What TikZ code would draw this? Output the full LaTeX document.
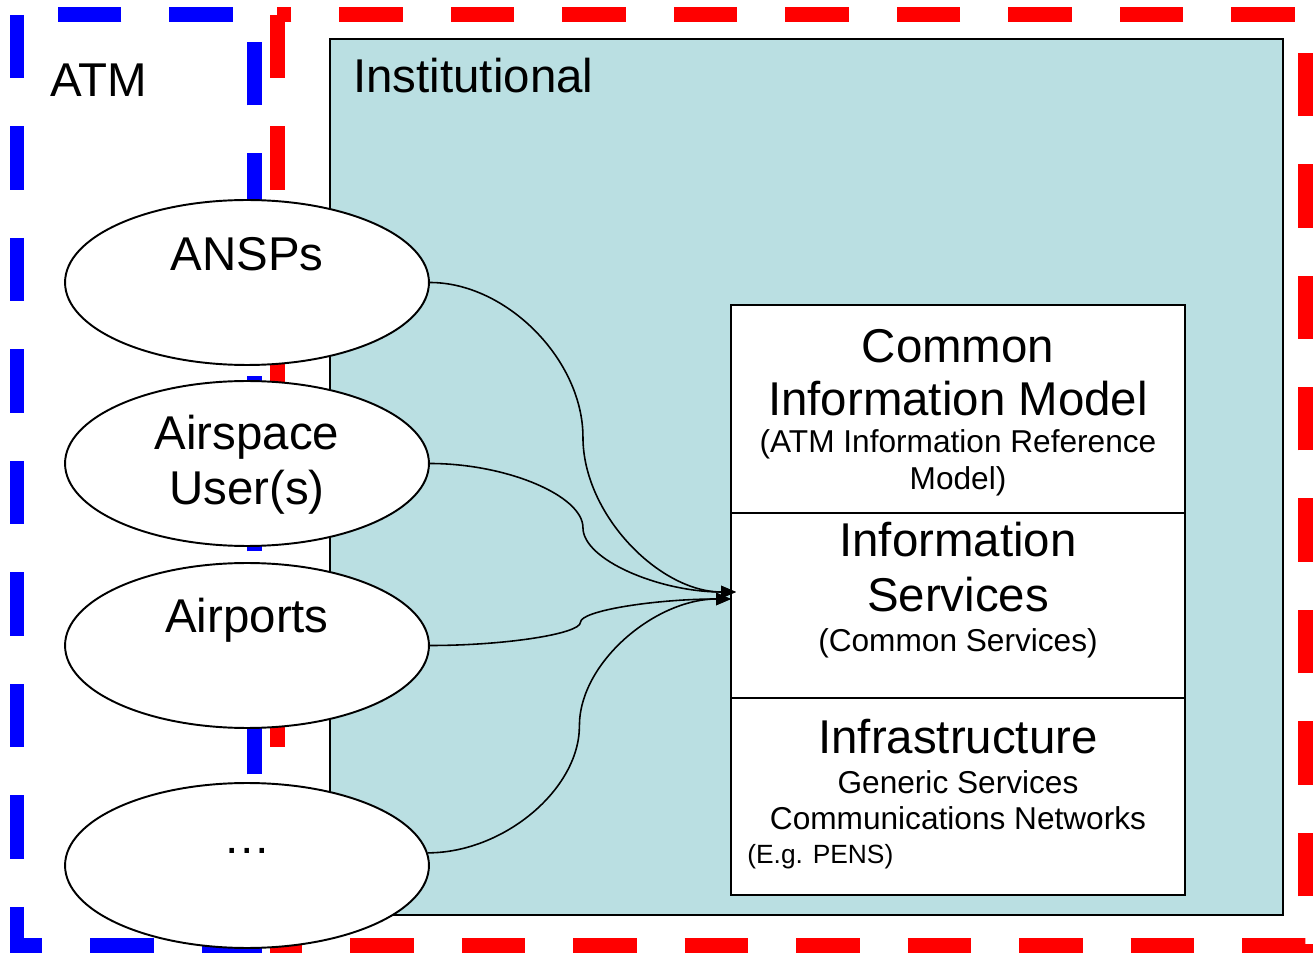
\documentclass[tikz,border=0pt]{standalone}
\usepackage{fontspec}
\setmainfont{Liberation Sans}
\usetikzlibrary{arrows.meta,shapes.geometric,calc}
\definecolor{instfill}{RGB}{186,223,226}
\newcommand{\bigtxt}{\fontsize{27}{31}\selectfont}
\newcommand{\midtxt}{\fontsize{18}{21}\selectfont}
\newcommand{\smalltxt}{\fontsize{15}{18}\selectfont}
\begin{document}
\begin{tikzpicture}[x=0.02cm, y=-0.02cm, line join=miter, >={Triangle[length=8.5pt,width=7pt]},
    frame/.style={line width=0.3cm, dash pattern=on 1.27cm off 0.96cm},
    actor/.style={ellipse, draw, line width=1.1pt, fill=white, minimum width=7.28cm, minimum height=3.3cm, inner sep=0pt},
    layer/.style={rectangle, draw, line width=1.2pt, fill=white, minimum width=9.08cm, inner sep=0pt},
    txt/.style={anchor=base, inner sep=0pt},
    link/.style={line width=0.9pt}]
    \useasboundingbox (0,0) rectangle (1313,959);
    % ATM and institutional frames
    \draw[frame, blue] (17,15) -- (17,945) -- (254,945) -- (254,15) -- cycle;
    \draw[frame, red] (277,15) -- (277,945) -- (1305,945) -- (1305,15) -- cycle;
    \draw[line width=1.2pt, fill=instfill] (330,39) rectangle (1283,915);
    \node[txt, anchor=base west, font=\bigtxt] (atm) at (50,97) {ATM};
    \node[txt, anchor=base west, font=\bigtxt] (inst) at (353,93) {Institutional};
    % stakeholders
    \node[actor] (ansp) at (247,282.5) {};
    \node[actor] (user) at (247,463.5) {};
    \node[actor] (airport) at (247,645.5) {};
    \node[actor] (other) at (247,865.5) {};
    % layers
    \node[layer, minimum height=4.16cm] (cim) at (958,409) {};
    \node[layer, minimum height=3.70cm] (infsvc) at (958,605.5) {};
    \node[layer, minimum height=3.94cm] (infra) at (958,796.5) {};
    \coordinate (tipA) at (736,592);
    \coordinate (tipB) at (731,599);
    \foreach \s/\t in {ansp.east/tipA, user.east/tipA, airport.east/tipB, other.4/tipB}{
        \path (\s) coordinate (p0) (\t) coordinate (p1)
        ($(p0)!.5!(p1)$) coordinate (pm)
        ($(p0)!.25!(p1)$) coordinate (pq)
        ($(p0)!.75!(p1)$) coordinate (pr);
        \draw[link, ->] (p0) .. controls (pq |- p0) and (pm |- pq) .. (pm)
        .. controls (pm |- pr) and (pr |- p1) .. (p1);
    }
    % texts
    \foreach \nm/\px/\py/\sz/\tx in {
        ansptxt/247/271/\bigtxt/ANSPs,
        usertxta/247/450/\bigtxt/Airspace,
        usertxtb/247/505/\bigtxt/User(s),
        airporttxt/247/633/\bigtxt/Airports,
        othertxt/247/853/\bigtxt/…,
        cimtxta/958/363/\bigtxt/Common,
        cimtxtb/958/416/\bigtxt/Information Model,
        cimtxtc/958/453/\midtxt/(ATM Information Reference,
        cimtxtd/958/490/\midtxt/Model),
        svctxta/958/557/\bigtxt/Information,
        svctxtb/958/612/\bigtxt/Services,
        svctxtc/958/652/\midtxt/(Common Services),
        infratxta/958/753/\bigtxt/Infrastructure,
        infratxtb/958/793/\midtxt/Generic Services,
        infratxtc/958/829/\midtxt/Communications Networks}
    \node[txt, font=\sz] (\nm) at (\px,\py) {\tx};
    \node[txt, anchor=base west, font=\smalltxt] (infratxtd) at (747,863) {(E.g. PENS)};
\end{tikzpicture}
\end{document}
